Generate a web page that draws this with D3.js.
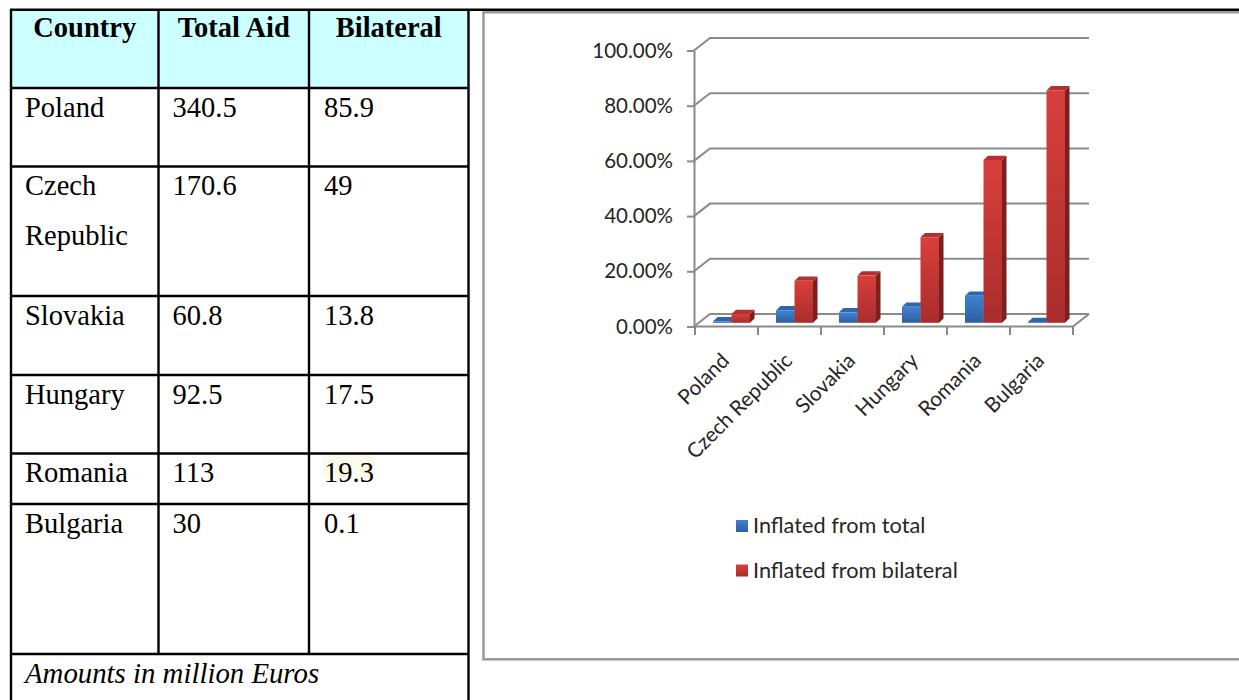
<!DOCTYPE html>
<html>
<head>
<meta charset="utf-8">
<script src="https://cdn.jsdelivr.net/npm/d3@7"></script>
<style>
body{margin:0;background:#fff}
svg{display:block}
</style>
</head>
<body>
<div id="page"></div>
<script>
var countries = ["Poland","Czech Republic","Slovakia","Hungary","Romania","Bulgaria"]
var totalAid = ["340.5","170.6","60.8","92.5","113","30"]
var bilateral = ["85.9","49","13.8","17.5","19.3","0.1"]
var headers = ["Country","Total Aid","Bilateral"]
var footNote = "Amounts in million Euros"

var seriesNames = ["Inflated from total","Inflated from bilateral"]
var inflatedTotal = [0.5,4.5,3.8,5.8,9.8,0.3]
var inflatedBilateral = [3.2,15.2,17.1,31.0,59.0,84.2]
var yTicks = [0,20,40,60,80,100]

var svg = d3.select("#page").append("svg").attr("width",1239).attr("height",700)

// ---------- table on the left
var colX = [11,158.5,309,468.5]
var rowY = [9.7,88,166.5,296,375,453.5,504,654]
var serif = "'Liberation Serif','Times New Roman',serif"
var table = svg.append("g")

table.append("rect").attr("x",colX[0]).attr("y",rowY[0]).attr("width",colX[3]-colX[0]).attr("height",rowY[1]-rowY[0]).attr("fill","#ccffff")
// small highlight behind Romania bilateral
table.append("rect").attr("x",323).attr("y",455).attr("width",52).attr("height",23).attr("fill","#fbfbec")

table.selectAll(".head").data(headers).enter().append("text")
  .attr("x",function(d,i){return (colX[i]+colX[i+1])/2})
  .attr("y",rowY[0]+27.5)
  .attr("text-anchor","middle")
  .style("font-family",serif).style("font-size","28.5px").style("font-weight","bold")
  .text(function(d){return d})

var rows = table.selectAll(".row").data(countries).enter().append("g")
  .attr("transform",function(d,i){return "translate(0,"+(rowY[i+1]+28.5)+")"})
rows.each(function(c,i){
  var g = d3.select(this)
  var lines = c.length>10 ? c.split(" ") : [c]
  lines.forEach(function(l,j){
    g.append("text").attr("x",colX[0]+14).attr("y",j*50).text(l)
  })
  g.append("text").attr("x",colX[1]+14).attr("y",0).text(totalAid[i])
  g.append("text").attr("x",colX[2]+15).attr("y",0).text(bilateral[i])
})
rows.selectAll("text").style("font-family",serif).style("font-size","28.5px")

table.append("text").attr("x",colX[0]+14).attr("y",rowY[7]+28.5)
  .style("font-family",serif).style("font-size","28.8px").style("font-style","italic")
  .text(footNote)

var bw = 2.4
table.append("line").attr("x1",colX[0]-1).attr("x2",1239).attr("y1",rowY[0]).attr("y2",rowY[0])
rowY.slice(1).forEach(function(yy){
  table.append("line").attr("x1",colX[0]).attr("x2",colX[3]).attr("y1",yy).attr("y2",yy)
})
colX.forEach(function(xx,i){
  var bottom = (i==0||i==3) ? 700 : rowY[7]
  table.append("line").attr("x1",xx).attr("x2",xx).attr("y1",rowY[0]).attr("y2",bottom)
})
table.selectAll("line").attr("stroke","#000").attr("stroke-width",bw)

// ---------- chart box
svg.append("rect").attr("x",483.5).attr("y",12.3).attr("width",800).attr("height",647)
  .attr("fill","#fff").attr("stroke","#9a9a9a").attr("stroke-width",2.5)

var sans = "Lato,'Open Sans',sans-serif"
var grey = "#8a8a8a"
var ink = "#262626"
var x = d3.scaleBand().domain(countries).range([695,1073])
var y = d3.scaleLinear().domain([0,100]).range([326.5,50.5])
var wall = {dx:16, dy:-12.5}
var inner = d3.scaleBand().domain(seriesNames).range([0,37])
var barOff = {dx:5, dy:-3.7}
var barDepth = {dx:4.5, dy:-4.3}
var chart = svg.append("g")

// wall gridlines (with the slanted side-wall part)
chart.selectAll(".grid").data(yTicks).enter().append("path")
  .attr("d",function(d){return "M694,"+y(d)+"L"+(694+wall.dx)+","+(y(d)+wall.dy)+"H"+(1073+wall.dx)})
  .attr("fill","none").attr("stroke",grey).attr("stroke-width",2)

// floor front + right edge
chart.append("path")
  .attr("d","M694,"+y(0)+"H1073L"+(1073+wall.dx)+","+(y(0)+wall.dy))
  .attr("fill","none").attr("stroke",grey).attr("stroke-width",2)

// y axis
var yAxis = chart.append("g").attr("transform","translate(694,0)")
  .call(d3.axisLeft(y).tickValues(yTicks).tickSize(7).tickSizeOuter(0).tickPadding(14)
    .tickFormat(function(d){return d3.format(".2f")(d)+"%"}))
yAxis.selectAll("path,line").attr("stroke",grey).attr("stroke-width",2)
yAxis.selectAll("text").style("font-family",sans).style("font-size","20.5px").attr("fill",ink)

// x ticks at band edges
var edges = countries.map(function(c){return x(c)}).concat([x.range()[1]])
chart.selectAll(".xt").data(edges).enter().append("line")
  .attr("x1",function(d){return d}).attr("x2",function(d){return d})
  .attr("y1",y(0)).attr("y2",y(0)+8.5)
  .attr("stroke",grey).attr("stroke-width",2)

chart.selectAll(".xl").data(countries).enter().append("text")
  .attr("transform",function(d){return "translate("+(x(d)+x.bandwidth()/2+4)+",362) rotate(-45)"})
  .attr("text-anchor","end")
  .style("font-family",sans).style("font-size","20.8px").attr("fill",ink)
  .text(function(d){return d})

// gradients
var defs = svg.append("defs")
var grads = [
  {id:"gBlue", top:"#3f82d4", bottom:"#2b5f9f"},
  {id:"gRed", top:"#d83f3c", bottom:"#a92d2b"}
]
grads.forEach(function(g){
  var lg = defs.append("linearGradient").attr("id",g.id).attr("x1",0).attr("y1",0).attr("x2",0).attr("y2",1)
  lg.append("stop").attr("offset","0%").attr("stop-color",g.top)
  lg.append("stop").attr("offset","100%").attr("stop-color",g.bottom)
})
var faces = [
  {front:"url(#gBlue)", side:"#1f4a80", top:"#2e66ad"},
  {front:"url(#gRed)", side:"#7c1f1f", top:"#b3302e"}
]

var barData = []
countries.forEach(function(c,i){
  barData.push({c:c, s:0, v:inflatedTotal[i]})
  barData.push({c:c, s:1, v:inflatedBilateral[i]})
})
var w = inner.bandwidth()
var bars = chart.selectAll(".bar").data(barData).enter().append("g")
bars.each(function(d){
  var g = d3.select(this)
  var bx = x(d.c) + (x.bandwidth()-37)/2 + inner(seriesNames[d.s]) + barOff.dx
  var yt = y(d.v) + barOff.dy, yb = y(0) + barOff.dy
  var f = faces[d.s]
  g.append("path")
    .attr("d","M"+(bx+w)+","+yt+"L"+(bx+w+barDepth.dx)+","+(yt+barDepth.dy)+"L"+(bx+w+barDepth.dx)+","+(yb+barDepth.dy)+"L"+(bx+w)+","+yb+"Z")
    .attr("fill",f.side)
  g.append("path")
    .attr("d","M"+bx+","+yt+"L"+(bx+w)+","+yt+"L"+(bx+w+barDepth.dx)+","+(yt+barDepth.dy)+"L"+(bx+barDepth.dx)+","+(yt+barDepth.dy)+"Z")
    .attr("fill",f.top)
  g.append("rect").attr("x",bx).attr("y",yt).attr("width",w).attr("height",yb-yt).attr("fill",f.front)
})

// legend
var legend = chart.selectAll(".lg").data(seriesNames).enter().append("g")
  .attr("transform",function(d,i){return "translate(736,"+(520+i*44.5)+")"})
legend.append("rect").attr("width",12).attr("height",12)
  .attr("fill",function(d,i){return i==0 ? "url(#gBlue)" : "url(#gRed)"})
legend.append("text").attr("x",17).attr("y",13)
  .style("font-family",sans).style("font-size","21.7px").attr("fill",ink)
  .text(function(d){return d})
</script>
</body>
</html>
